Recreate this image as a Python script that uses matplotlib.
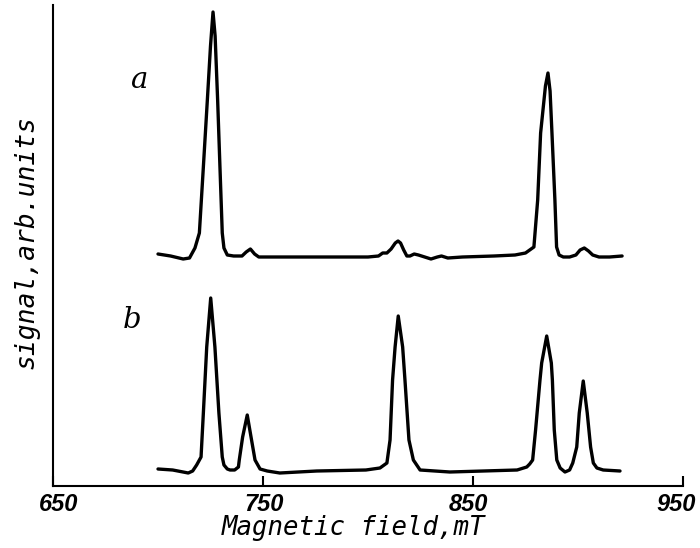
import matplotlib
matplotlib.use("Agg")
import matplotlib.pyplot as plt
from matplotlib.transforms import ScaledTranslation

# Trace a (upper) : magnetic field (mT) and signal (arb. units)
a_field = [700, 706, 712, 715, 717.6, 719.7, 721.6, 723.5, 725, 726.2, 727.2, 728.4, 729.5, 730.6, 731.4,
           733, 736, 740, 742, 744, 746, 748, 760, 780, 800, 805, 807, 809, 811, 813,
           814.3, 815.5, 817, 818.5, 820, 822, 824, 827, 830, 833, 835, 838, 845, 860, 870,
           875, 877, 879, 880.8, 882.2, 884.5, 885.7, 886.7, 887.6, 889, 889.8, 891, 893, 896, 899,
           901, 903, 905, 907, 910, 915, 921]
a_signal = [232, 230, 227, 228, 238, 253, 319, 386, 440, 474, 450, 386, 319, 253, 238,
            231, 230, 230, 234, 237, 232, 229, 229, 229, 229, 230, 233, 233, 237, 243,
            245, 243, 236, 230, 230, 232, 231, 229, 227, 229, 230, 228, 229, 230, 231,
            233, 236, 239, 286, 353, 400, 413, 395, 353, 286, 239, 231, 229, 229, 231,
            236, 238, 235, 231, 229, 229, 230]

# Trace b (lower)
b_field = [700, 707, 714.4, 716.5, 718.4, 720.5, 721.6, 723.2, 725.1, 727.1, 729, 730.6, 731.4, 733, 734.3,
           736.5, 738.3, 738.7, 740.3, 742.5, 744.3, 746.2, 748.6, 752, 758, 775.6, 799, 805.7, 809, 810.5,
           811.7, 812.9, 814.4, 816.5, 817.6, 819.5, 821.6, 824.8, 839, 871, 875.6, 877, 878.4, 879.8, 881.9,
           882.7, 885.1, 887.3, 887.8, 888.7, 889.9, 891.5, 893.8, 896, 897.5, 899.4, 900.6, 902.5, 904.4, 906,
           907.3, 909, 912, 920]
b_signal = [17, 16, 13, 15, 21, 29, 73, 139, 188, 139, 73, 29, 21, 17, 16,
            16, 19, 26, 49, 71, 49, 26, 17, 15, 13, 15, 16, 18, 23, 46,
            106, 139, 170, 139, 106, 46, 26, 16, 14, 16, 19, 22, 26, 56, 106,
            123, 150, 123, 106, 56, 26, 18, 14, 16, 23, 39, 73, 105, 73, 39,
            23, 18, 16, 15]

x_ticks = [650, 750, 850, 950]
trace_labels = ["a", "b"]
label_pos = [(691, 406), (687.5, 166)]

fig = plt.figure(figsize=(7.0, 5.48), dpi=100)
ax = fig.add_axes([53 / 700, 1 - 486 / 548, 630 / 700, 481 / 548])

for fld, sig in [(a_field, a_signal), (b_field, b_signal)]:
    ax.plot(fld, sig, color="black", lw=2.4, solid_joinstyle="round", solid_capstyle="round")

for lab, (lx, ly) in zip(trace_labels, label_pos):
    ax.text(lx, ly, lab, fontsize=21, family="DejaVu Serif", style="italic",
            ha="center", va="center", color="black")

ax.set_xlim(650, 950)
ax.set_ylim(0, 481)
ax.spines["top"].set_visible(False)
ax.spines["right"].set_visible(False)
ax.spines["left"].set_linewidth(1.5)
ax.spines["bottom"].set_linewidth(1.5)
ax.set_yticks([])
ax.set_xticks(x_ticks)
ax.set_xticklabels([str(t) for t in x_ticks], fontsize=17, fontweight="bold",
                   style="italic", family="Liberation Sans")
ax.tick_params(axis="x", direction="in", length=7, width=1.5, pad=5)
offsets = [6, 1, -5, -7]
for lbl, dx in zip(ax.get_xticklabels(), offsets):
    lbl.set_transform(lbl.get_transform() + ScaledTranslation(dx / 100, 0, fig.dpi_scale_trans))

fig.text(354 / 700, 1 - 528 / 548, "Magnetic field,mT", fontsize=18.5, family="DejaVu Sans Mono",
         style="oblique", ha="center", va="center")
fig.text(27 / 700, 1 - 242 / 548, "signal,arb.units", fontsize=19, family="DejaVu Sans Mono",
         style="oblique", ha="center", va="center", rotation=90)

fig.savefig("out.png", dpi=100)
